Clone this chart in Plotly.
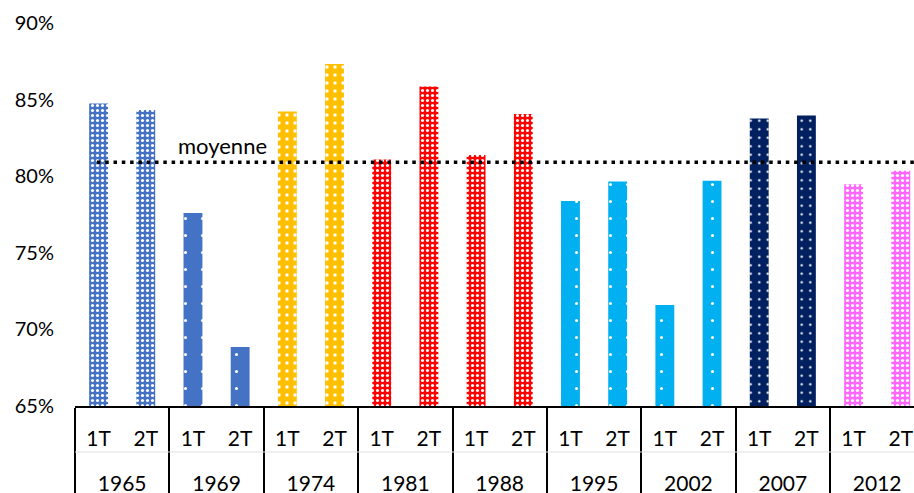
import plotly.graph_objects as go

# Participation aux élections présidentielles françaises (1er et 2nd tour)
years = ["1965", "1969", "1974", "1981", "1988", "1995", "2002", "2007", "2012"]
rounds = ["1T", "2T"]
turnout = [84.75, 84.32, 77.59, 68.85, 84.23, 87.33, 81.09, 85.85, 81.38,
           84.06, 78.38, 79.66, 71.60, 79.71, 83.77, 83.97, 79.48, 80.35]
y_ticks = [65, 70, 75, 80, 85, 90]

# per-election fill colour and white pattern
year_color = ["#4472C4", "#4472C4", "#FFC000", "#FF0000", "#FF0000",
              "#00B0F0", "#00B0F0", "#002060", "#FF66FF"]
year_psize = [5, 17, 8, 5, 5, 17, 17, 8.5, 5]
year_solid = [0.3, 0.025, 0.14, 0.3, 0.3, 0.025, 0.025, 0.06, 0.33]

mean_turnout = sum(turnout) / len(turnout)

FONT = "Lato"
x_range = [-0.5, 17.28]

# small subscript spacers give the inner label row a little extra depth
inner_label = {r: "<sub>\u00a0</sub>" + r + "<sub>\u00a0</sub>" for r in rounds}

fig = go.Figure()
for i, year in enumerate(years):
    vals = turnout[i * len(rounds):(i + 1) * len(rounds)]
    fig.add_trace(go.Bar(
        x=[["<br>" + year] * len(rounds), [inner_label[r] for r in rounds]],
        y=vals,
        name=year,
        marker=dict(
            color=year_color[i],
            line=dict(width=0),
            pattern=dict(shape=".", fillmode="replace",
                         bgcolor=year_color[i], fgcolor="white", fgopacity=1,
                         size=year_psize[i], solidity=year_solid[i]),
        ),
        hovertemplate=year + " %{y:.2f}%<extra></extra>",
    ))

# dotted average line
x0_paper = (0 - x_range[0]) / (x_range[1] - x_range[0])
fig.add_shape(type="line", xref="paper", yref="y",
              x0=x0_paper - 0.002, x1=1, y0=mean_turnout, y1=mean_turnout,
              line=dict(color="black", width=3.5, dash="3.5px,4.8px"))
fig.add_annotation(text="moyenne", xref="paper", yref="y",
                   x=0.176, xanchor="center", y=mean_turnout, yanchor="bottom",
                   yshift=1, showarrow=False,
                   font=dict(family=FONT, size=22, color="black"))

# faint rule between the two rows of category labels
fig.add_shape(type="line", xref="paper", yref="paper",
              x0=0, x1=1, y0=-0.12, y1=-0.12,
              line=dict(color="#e0e0e0", width=1))

fig.update_layout(
    width=914, height=493,
    margin=dict(l=75, r=0, t=23, b=87),
    paper_bgcolor="white", plot_bgcolor="white",
    showlegend=False,
    barmode="overlay",
    bargap=0.6,
    font=dict(family=FONT, size=20, color="black"),
)
fig.update_xaxes(
    type="multicategory",
    range=x_range,
    showline=True, linecolor="black", linewidth=1.5,
    showdividers=True, dividercolor="black", dividerwidth=1.5,
    tickfont=dict(family=FONT, size=21, color="black"),
    showgrid=False, zeroline=False, automargin=False,
    ticklabelstandoff=13,
)
fig.update_yaxes(
    range=[65, 90],
    tickvals=y_ticks,
    ticktext=[f"{v}%" for v in y_ticks],
    showgrid=False, zeroline=False, showline=False,
    tickfont=dict(family=FONT, size=20, color="black"),
    ticklabelstandoff=20, automargin=False,
)

fig.write_html("out.html")
